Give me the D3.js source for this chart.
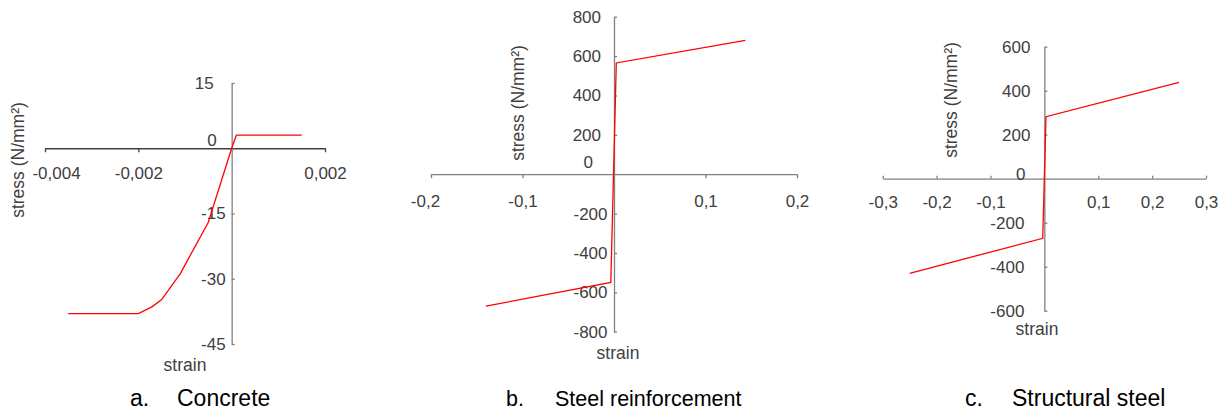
<!DOCTYPE html>
<html>
<head>
<meta charset="utf-8">
<script src="https://cdn.jsdelivr.net/npm/d3@7"></script>
<style>
  body { margin: 0; background: #fff; }
  svg { display: block; font-family: "Liberation Sans", Arial, sans-serif; }
</style>
</head>
<body>
<svg id="chart" width="1226" height="414"></svg>
<script>
// a. concrete
var strainA = [-0.0035, -0.002, -0.0017, -0.0015, -0.0011, -0.0005, 0, 0.0001, 0.0015];
var stressA = [-38, -38, -36.4, -34.8, -28.8, -17, 0, 3, 3];
var xTicksA = [-0.004, -0.002, 0, 0.002];
var yTicksA = [-45, -30, -15, 0, 15];

// b. steel reinforcement
var strainB = [-0.14, -0.0035, 0.0025, 0.1435];
var stressB = [-670, -550, 565, 680];
var xTicksB = [-0.2, -0.1, 0, 0.1, 0.2];
var yTicksB = [-800, -600, -400, -200, 0, 200, 400, 600, 800];

// c. structural steel
var strainC = [-0.25, -0.003, 0.003, 0.25];
var stressC = [-430, -271, 282, 438];
var xTicksC = [-0.3, -0.2, -0.1, 0, 0.1, 0.2, 0.3];
var yTicksC = [-600, -400, -200, 0, 200, 400, 600];

var captions = [["a.", "Concrete"], ["b.", "Steel reinforcement"], ["c.", "Structural steel"]];

var panels = [
  { x: strainA, y: stressA, xt: xTicksA, yt: yTicksA,
    xr: [45, 325], yr: [344, 83], xTick: 4, xCol: "#404040", firstDx: 11,
    labPos: -18, labZero: -15, labNeg: -6, zeroDy: -8, xLabDy: 25,
    yTitle: [18, 160], xTitle: [185, 365],
    cap: [130, 177], capSize: 23 },
  { x: strainB, y: stressB, xt: xTicksB, yt: yTicksB,
    xr: [431, 797], yr: [331.7, 16.7], xTick: 4, xCol: "#808080", firstDx: -6,
    labPos: -13, labZero: -21, labNeg: -6.5, zeroDy: -12, xLabDy: 27,
    yTitle: [518, 103], xTitle: [618, 353],
    cap: [506, 555], capSize: 21.5 },
  { x: strainC, y: stressC, xt: xTicksC, yt: yTicksC,
    xr: [882.7, 1206], yr: [310.7, 46.7], xTick: -3, xCol: "#808080", firstDx: 0,
    labPos: -14, labZero: -19, labNeg: -20, zeroDy: -5, xLabDy: 23,
    yTitle: [951, 100], xTitle: [1037, 329],
    cap: [965, 1012], capSize: 23 }
];

var svg = d3.select("#chart");
svg.append("rect").attr("width", 1226).attr("height", 414).attr("fill", "#fff");

function fmt(d) {
  return d === 0 ? "" : String(d).replace(".", ",");
}

panels.forEach(function(p, i) {
  var xs = d3.scaleLinear().domain(d3.extent(p.xt)).range(p.xr);
  var ys = d3.scaleLinear().domain(d3.extent(p.yt)).range(p.yr);
  var x0 = xs(0), y0 = ys(0);
  var xMin = d3.min(p.xt);

  // x axis
  var gx = svg.append("g")
      .attr("transform", "translate(0," + y0 + ")")
      .call(d3.axisBottom(xs).tickValues(p.xt).tickFormat(fmt)
        .tickSizeInner(p.xTick).tickSizeOuter(0).tickPadding(0));
  gx.select(".domain").attr("stroke", p.xCol).attr("stroke-width", 1.3);
  gx.selectAll(".tick line").attr("stroke", p.xCol).attr("stroke-width", 1.3);
  gx.selectAll(".tick text")
      .attr("y", p.xLabDy).attr("dy", "0.35em")
      .attr("x", function(d) { return d === xMin ? p.firstDx : 0; })
      .attr("fill", "#404040").attr("font-size", 17).attr("font-family", null);

  // y axis
  var gy = svg.append("g")
      .attr("transform", "translate(" + x0 + ",0)")
      .call(d3.axisLeft(ys).tickValues(p.yt).tickFormat(function(d) { return String(d); })
        .tickSizeInner(-3).tickSizeOuter(0).tickPadding(0));
  gy.select(".domain").attr("stroke", "#808080").attr("stroke-width", 1.3);
  gy.selectAll(".tick line").attr("stroke", "#808080").attr("stroke-width", 1.3);
  gy.selectAll(".tick text")
      .attr("fill", "#404040").attr("font-size", 17).attr("font-family", null)
      .attr("x", function(d) { return d < 0 ? p.labNeg : (d === 0 ? p.labZero : p.labPos); })
      .attr("y", function(d) { return d === 0 ? p.zeroDy : 0; });
  gy.selectAll(".tick").filter(function(d) { return d === 0; }).select("line").remove();
  gx.selectAll(".tick").filter(function(d) { return d === 0; }).select("line").remove();
  gx.selectAll(".tick").filter(function(d) { return d === 0; }).select("text").remove();

  // curve
  var pts = p.x.map(function(v, k) { return [v, p.y[k]]; });
  svg.append("path")
      .datum(pts)
      .attr("fill", "none")
      .attr("stroke", "#ff0000")
      .attr("stroke-width", 1.3)
      .attr("d", d3.line().x(function(d) { return xs(d[0]); }).y(function(d) { return ys(d[1]); }));

  // titles
  svg.append("text")
      .attr("transform", "translate(" + p.yTitle[0] + "," + p.yTitle[1] + ") rotate(-90)")
      .attr("text-anchor", "middle").attr("dy", "0.35em")
      .attr("font-size", 17.5).attr("fill", "#404040")
      .text("stress (N/mm²)");
  svg.append("text")
      .attr("x", p.xTitle[0]).attr("y", p.xTitle[1])
      .attr("text-anchor", "middle").attr("dy", "0.35em")
      .attr("font-size", 17.5).attr("fill", "#404040")
      .text("strain");

  // caption
  svg.append("text")
      .attr("x", p.cap[0]).attr("y", 406)
      .attr("font-size", p.capSize).attr("fill", "#000")
      .text(captions[i][0]);
  svg.append("text")
      .attr("x", p.cap[1]).attr("y", 406)
      .attr("font-size", p.capSize).attr("fill", "#000")
      .text(captions[i][1]);
});
</script>
</body>
</html>
